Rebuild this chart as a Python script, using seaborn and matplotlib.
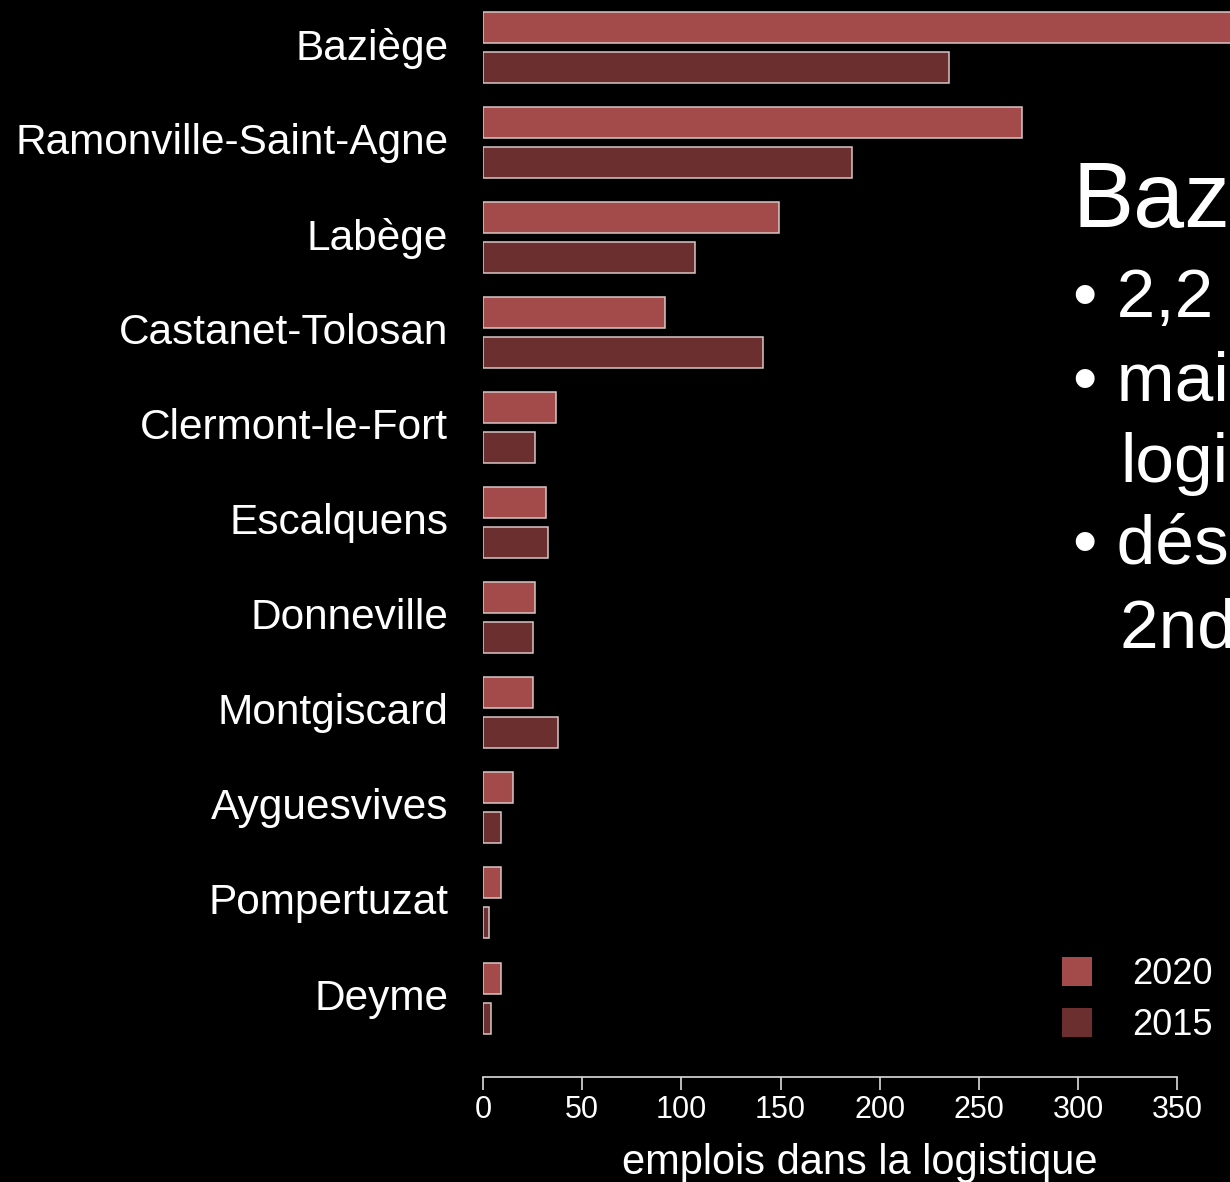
import pandas as pd
import matplotlib
matplotlib.use("Agg")
import matplotlib.pyplot as plt
from matplotlib import font_manager
from matplotlib.transforms import ScaledTranslation
import seaborn as sns

# données
communes = ['Baziège', 'Ramonville-Saint-Agne', 'Labège', 'Castanet-Tolosan',
            'Clermont-le-Fort', 'Escalquens', 'Donneville', 'Montgiscard',
            'Ayguesvives', 'Pompertuzat', 'Deyme']
emplois_2020 = [517, 272, 149, 92, 37, 32, 26, 25, 15, 9, 9]
emplois_2015 = [235, 186, 107, 141, 26, 33, 25, 38, 9, 3, 4]
annees = ['2020', '2015']
ticks_x = [0, 50, 100, 150, 200, 250, 300, 350]

df = pd.DataFrame({
    'commune': communes * 2,
    'emplois': emplois_2020 + emplois_2015,
    'annee': [annees[0]] * len(communes) + [annees[1]] * len(communes),
})

sns.set_theme(style='white')
plt.rcParams['font.family'] = ['Liberation Sans', 'DejaVu Sans']
noms = {f.name for f in font_manager.fontManager.ttflist}
police_ticks = 'Liberation Sans Narrow' if 'Liberation Sans Narrow' in noms else 'Liberation Sans'

palette = {'2020': '#a34a4b', '2015': '#6b2f2f'}

fig = plt.figure(figsize=(12.3, 11.82), dpi=100, facecolor='black')
ax = fig.add_axes([483 / 1230, 105 / 1182, 1190 / 1230, 1077 / 1182])
ax.set_facecolor('black')

sns.barplot(data=df, x='emplois', y='commune', hue='annee', hue_order=annees,
            palette=palette, orient='h', width=0.842, gap=0.225,
            edgecolor='#d8c6c6', linewidth=1.1, saturation=1, ax=ax)

ax.set_xlim(0, 600)
ax.set_ylim(10.831, -0.5)
for s in ['top', 'right', 'left']:
    ax.spines[s].set_visible(False)
ax.spines['bottom'].set_color('#dddddd')
ax.spines['bottom'].set_linewidth(1.2)
ax.spines['bottom'].set_bounds(0, 350)
ax.set_xticks(ticks_x)
ax.set_xticklabels([str(t) for t in ticks_x], fontsize=22, color='white',
                   family=police_ticks)
ax.tick_params(axis='x', colors='#dddddd', labelcolor='white', length=9,
               width=1.2, pad=4, bottom=True)
ax.tick_params(axis='y', length=0, pad=25, labelsize=30.5, labelcolor='white')
# noms des communes un peu au-dessus du centre des groupes
decalage = ScaledTranslation(0, 4 / 100, fig.dpi_scale_trans)
for lab in ax.get_yticklabels():
    lab.set_transform(lab.get_transform() + decalage)
ax.set_ylabel('')
ax.set_xlabel('emplois dans la logistique', fontsize=30, color='white')
ax.xaxis.set_label_coords(377 / 1190, -66 / 1077)

leg = ax.legend(loc='center left', bbox_to_anchor=(1029 / 1230, 1 - 1000 / 1182),
                bbox_transform=fig.transFigure, frameon=False, fontsize=26,
                handlelength=0.85, handleheight=0.85, handletextpad=1.1,
                labelspacing=0.45, labelcolor='white', title=None)
for h in leg.legend_handles:
    h.set_edgecolor('none')

# texte de la diapositive (coupé au bord droit)
fig.text(1073 / 1230, 1 - 227 / 1182, 'Baziège', fontsize=66, color='white',
         va='baseline', ha='left')
lignes = [('• 2,2 fois plus', 1073, 317), ('• mais', 1073, 400),
          ('logistique', 1120, 482), ('• désormais', 1073, 563),
          ('2nde commune', 1120, 647)]
for txt, x, y in lignes:
    fig.text(x / 1230, 1 - y / 1182, txt, fontsize=50, color='white',
             va='baseline', ha='left')

fig.savefig('out.png', dpi=100, facecolor='black')
